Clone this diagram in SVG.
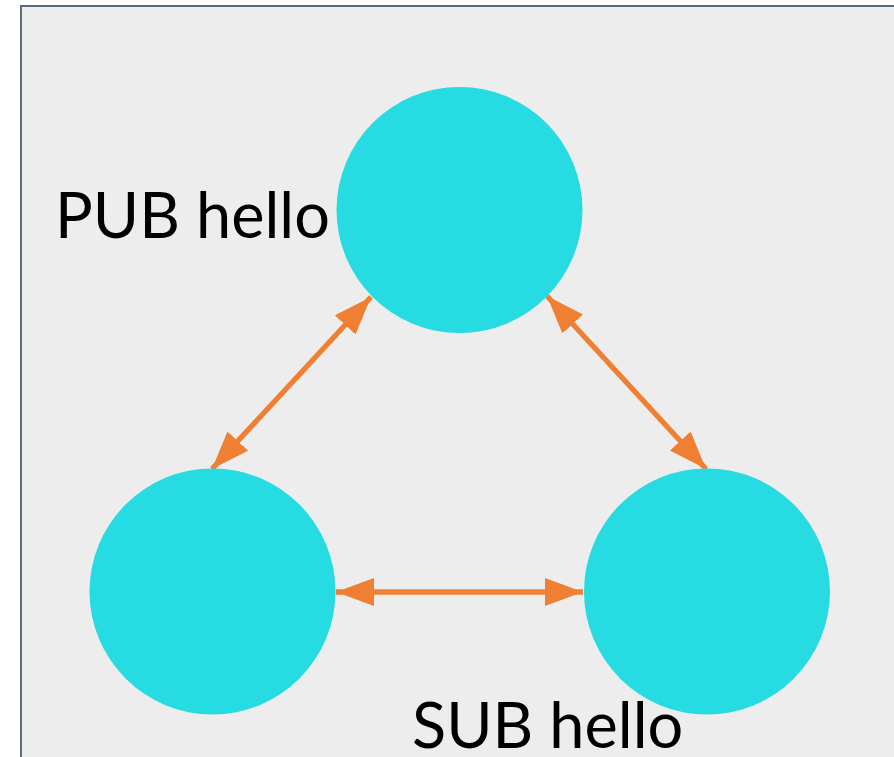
<svg xmlns="http://www.w3.org/2000/svg" width="894" height="757" viewBox="0 0 894 757">
<style>
.node{fill:#26dbe1}
.lbl{font-family:Lato,"Liberation Sans",sans-serif;font-size:63px;fill:#000}
.conn{stroke:#ef7f33;stroke-width:5.3;fill:none}
</style>
<defs>
<marker id="ah" markerUnits="userSpaceOnUse" markerWidth="40" markerHeight="30" refX="38" refY="14" orient="auto-start-reverse" viewBox="0 0 40 30">
<path d="M0,0 L38,14 L0,28 Z" fill="#ef7f33"/>
</marker>
</defs>
<rect x="0" y="0" width="894" height="757" fill="#ffffff"/>
<rect x="21" y="6" width="880" height="760" fill="#ededed" stroke="#5b6b82" stroke-width="2"/>
<g id="connectors">
<line class="conn" x1="371" y1="297" x2="212" y2="469" marker-start="url(#ah)" marker-end="url(#ah)"/>
<line class="conn" x1="547" y1="296" x2="706" y2="469" marker-start="url(#ah)" marker-end="url(#ah)"/>
<line class="conn" x1="336" y1="592" x2="583" y2="592" marker-start="url(#ah)" marker-end="url(#ah)"/>
</g>
<g id="node-top">
<circle class="node" cx="459.5" cy="210" r="123"/>
</g>
<g id="node-left">
<circle class="node" cx="212.5" cy="591.5" r="123"/>
</g>
<g id="node-right">
<circle class="node" cx="707" cy="591.5" r="123"/>
</g>
<g id="label-pub">
<text class="lbl" x="55" y="238">PUB hello</text>
</g>
<g id="label-sub">
<text class="lbl" x="412" y="748">SUB hello</text>
</g>
</svg>
